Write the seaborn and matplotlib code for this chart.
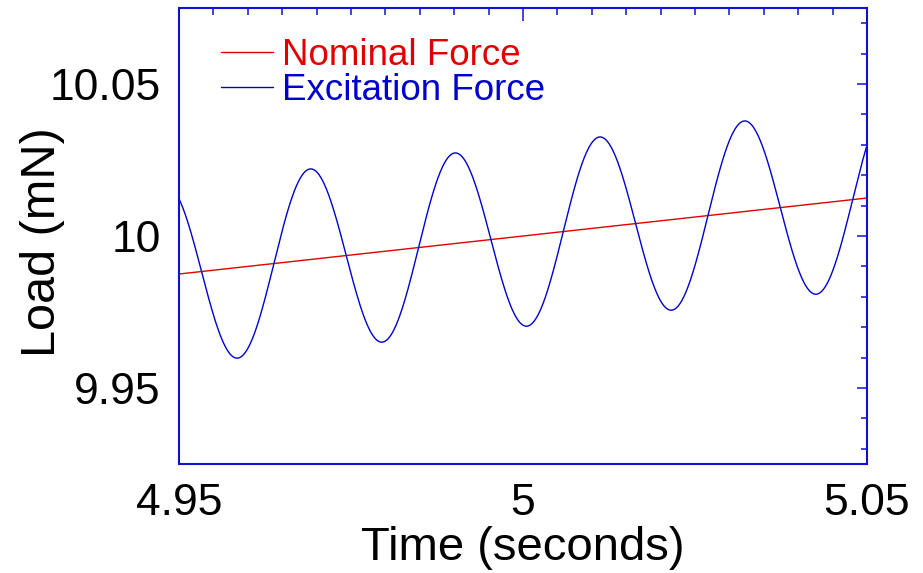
import numpy as np
import pandas as pd
import matplotlib
matplotlib.use("Agg")
import matplotlib.pyplot as plt
from matplotlib.ticker import MultipleLocator
import seaborn as sns

# Time window shown (seconds)
time_limits = [4.95, 5.05]
load_limits = [9.925, 10.075]

# Nominal force ramp: load at the start and end of the window (mN)
nominal_load = [9.9875, 10.0125]

# Sinusoidal excitation superimposed on the nominal ramp
excitation_amplitude = 0.0298   # mN
excitation_frequency = 47.55    # Hz
excitation_trough_time = 5.0006 # s, time of a minimum

x_ticks = [4.95, 5.0, 5.05]
x_tick_labels = ["4.95", "5", "5.05"]
y_ticks = [9.95, 10.0, 10.05]
y_tick_labels = ["9.95", "10", "10.05"]

series_names = ["Nominal Force", "Excitation Force"]
series_colors = ["#e00000", "#0000d0"]
frame_color = "#1010d8"

t = np.linspace(time_limits[0], time_limits[1], 2001)
nominal = np.interp(t, time_limits, nominal_load)
excitation = nominal - excitation_amplitude * np.cos(
    2 * np.pi * excitation_frequency * (t - excitation_trough_time))

df = pd.DataFrame({
    "time": np.concatenate([t, t]),
    "load": np.concatenate([nominal, excitation]),
    "series": [series_names[0]] * len(t) + [series_names[1]] * len(t),
})

sns.set_style("white")
plt.rcParams["font.family"] = ["Liberation Sans", "DejaVu Sans"]
plt.rcParams["text.color"] = "black"
plt.rcParams["axes.labelcolor"] = "black"

fig = plt.figure(figsize=(9.23, 5.73), dpi=100)
ax = fig.add_axes([0.1939, 0.1902, 0.7454, 0.7958])

sns.lineplot(data=df, x="time", y="load", hue="series",
             palette=dict(zip(series_names, series_colors)),
             hue_order=series_names, linewidth=1.0, ax=ax, legend=False)

ax.set_xlim(time_limits)
ax.set_ylim(load_limits)

ax.set_xticks(x_ticks)
ax.set_xticklabels(x_tick_labels, fontsize=32)
ax.set_yticks(y_ticks)
ax.set_yticklabels(y_tick_labels, fontsize=32)
ax.xaxis.set_minor_locator(MultipleLocator(0.005))
ax.yaxis.set_minor_locator(MultipleLocator(0.01))

ax.tick_params(axis="both", which="both", direction="in", colors=frame_color,
               labelcolor="black", top=True, right=True, width=1.1)
ax.tick_params(axis="x", which="major", length=9, pad=14)
ax.tick_params(axis="x", which="minor", length=5)
ax.tick_params(axis="y", which="major", length=7, pad=13)
ax.tick_params(axis="y", which="minor", length=4)

for sp in ax.spines.values():
    sp.set_color(frame_color)
    sp.set_linewidth(1.5)

ax.set_xlabel("Time (seconds)", fontsize=34, color="black")
ax.xaxis.set_label_coords(0.5, -0.135)
ax.set_ylabel("Load (mN)", fontsize=35, color="black")
ax.yaxis.set_label_coords(-0.166, 0.487)

handles = [plt.Line2D([], [], color=c, linewidth=1.0) for c in series_colors]
ax.legend(handles, series_names, loc="upper left", bbox_to_anchor=(0.040, 0.966),
          frameon=False, fontsize=26.5, handlelength=1.4, handletextpad=0.25,
          labelspacing=0.0, labelcolor=series_colors, borderaxespad=0.0)

fig.savefig("out.png", dpi=100)
